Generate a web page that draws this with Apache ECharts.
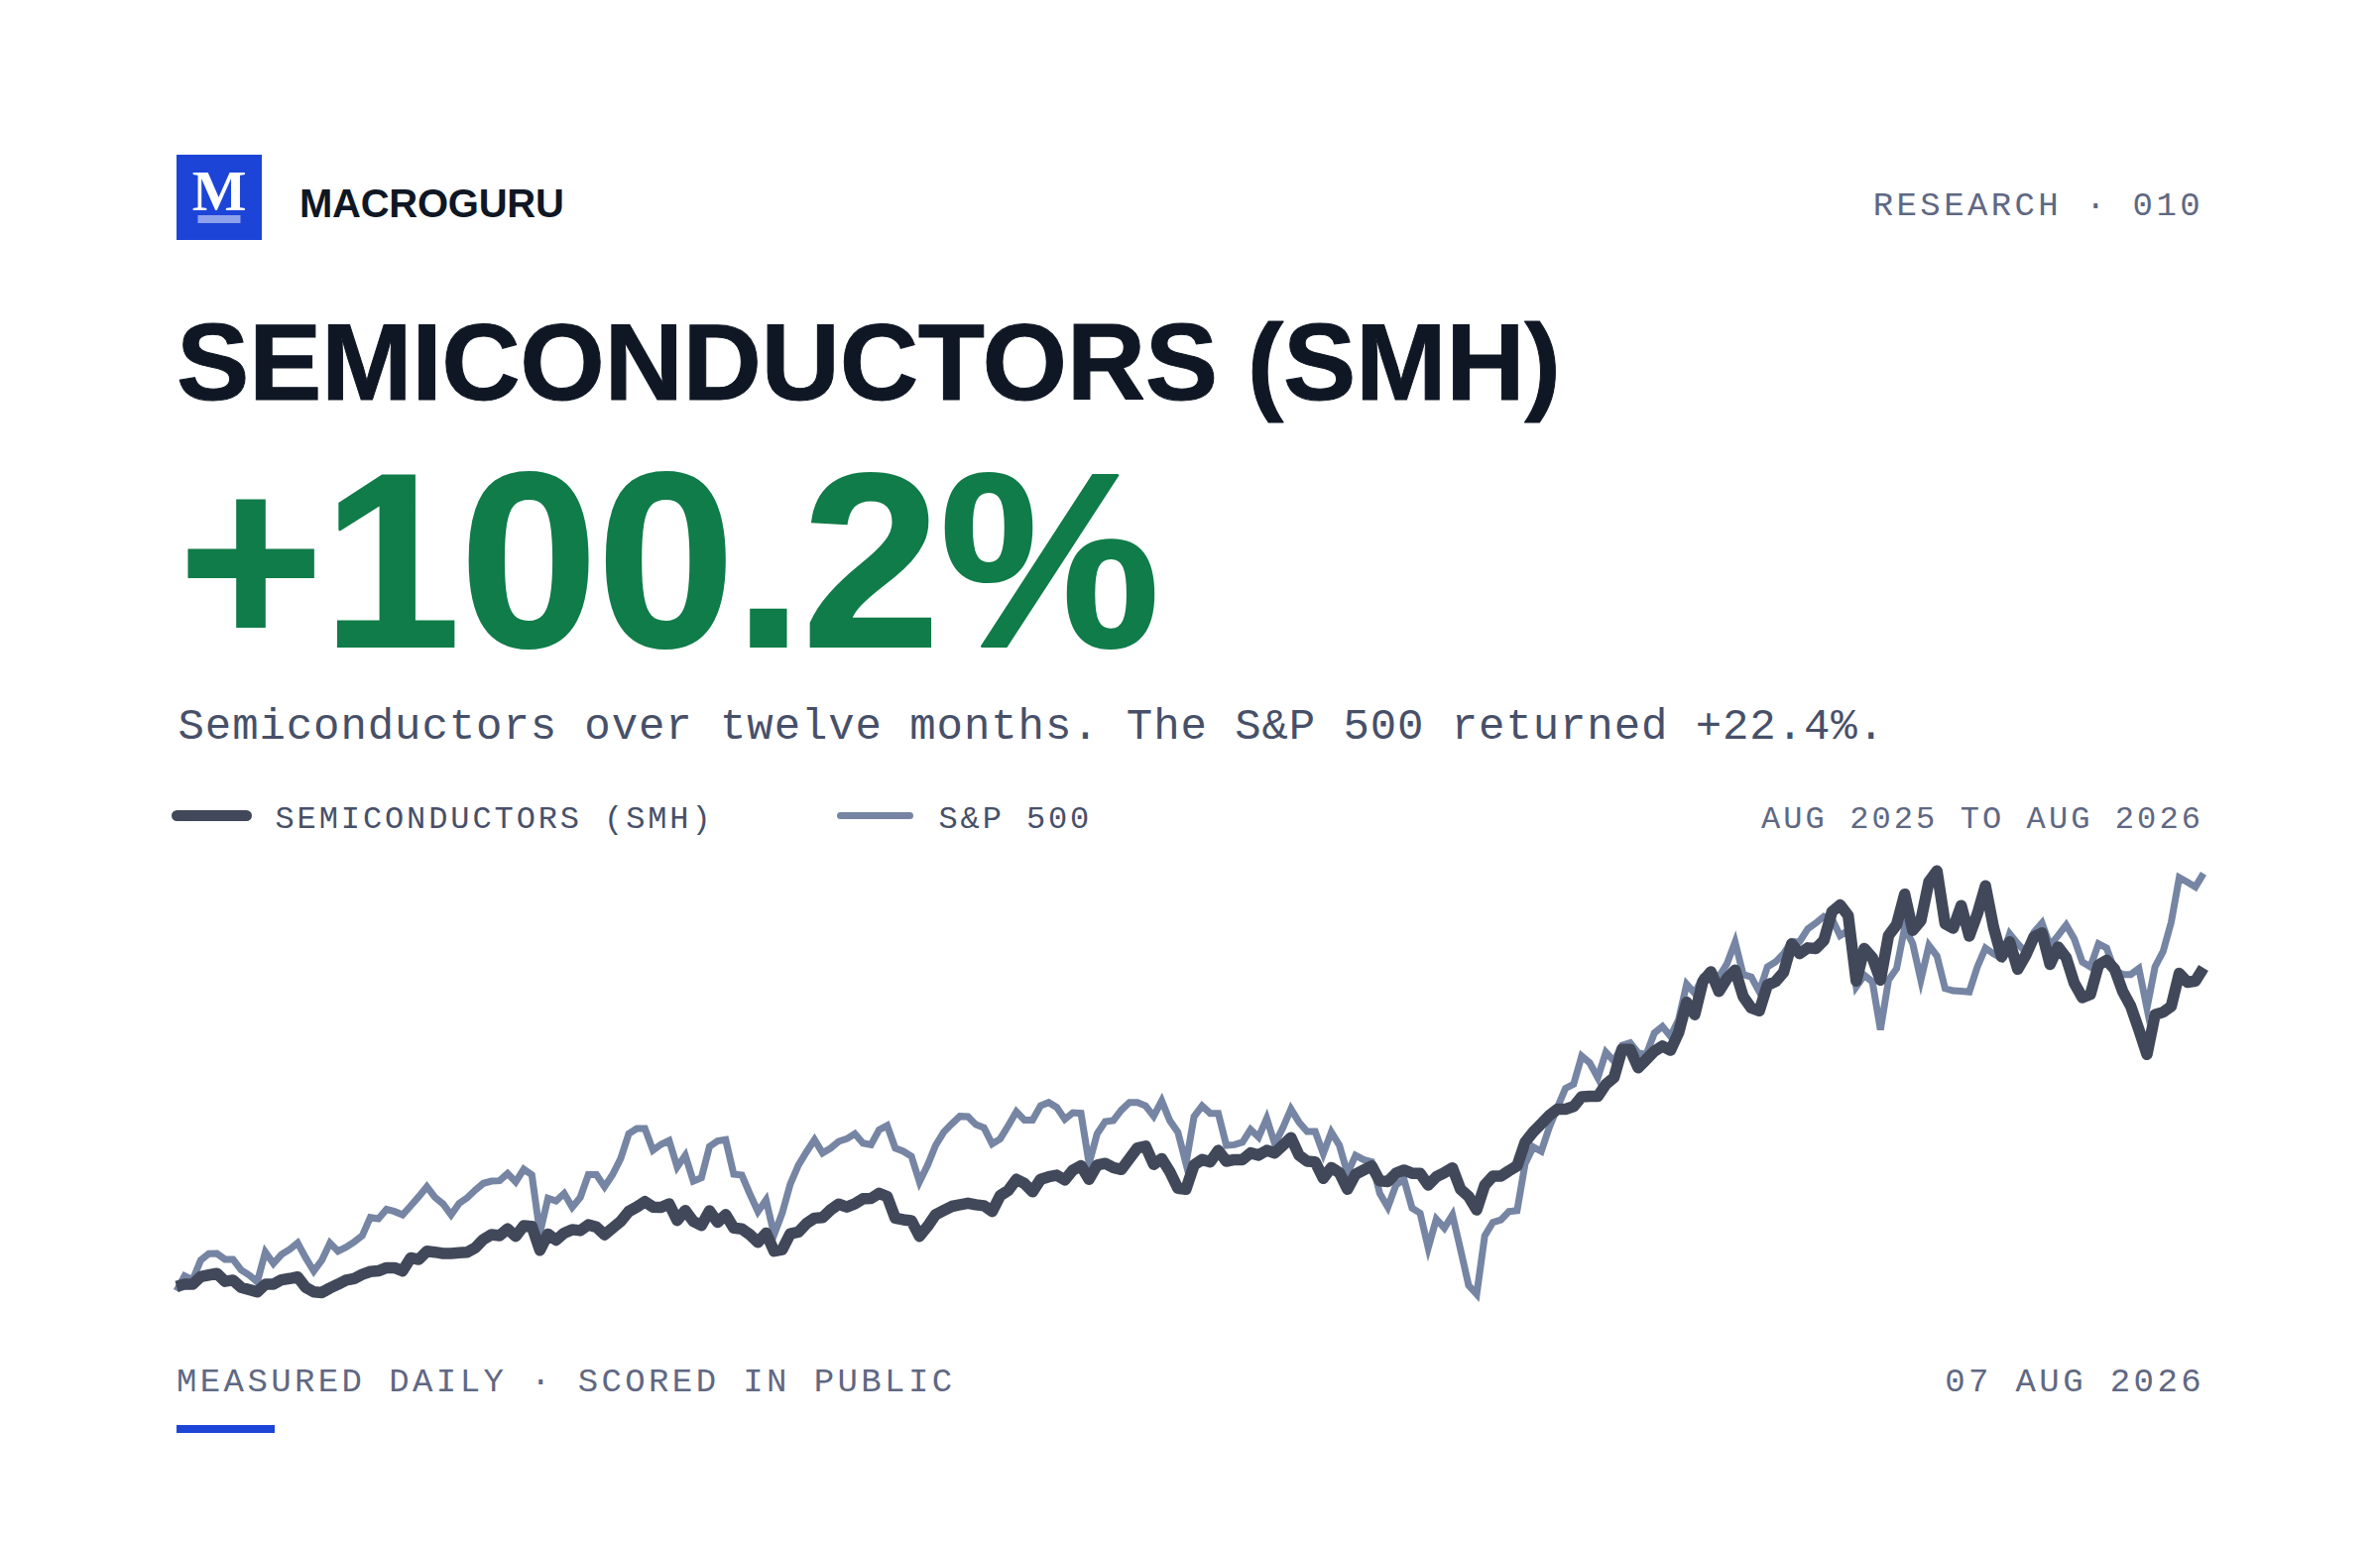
<!DOCTYPE html>
<html>
<head>
<meta charset="utf-8">
<style>html,body{margin:0;padding:0;background:#fff}#chart{width:2400px;height:1560px}</style>
<script src="https://cdn.jsdelivr.net/npm/echarts@6/dist/echarts.min.js"></script>
</head>
<body>
<div id="chart"></div>
<script>
// cumulative return in %, both, each on its own hidden scale
const smh = [0,0.7,0.7,3.1,3.6,4.1,1.6,2.0,-0.3,-1.0,-1.7,0.7,0.7,2.1,2.5,3.0,-0.3,-1.7,-1.9,-0.5,0.7,2.0,2.5,3.8,4.7,4.9,5.9,5.9,4.9,9.0,8.5,11.1,10.8,10.4,10.4,10.6,10.8,12.2,14.8,16.3,16.0,18.1,15.8,19.1,18.9,11.4,16.5,14.6,16.8,17.9,17.6,19.4,18.7,16.3,18.4,20.5,23.6,25.0,26.7,25.0,24.9,
  26.0,20.8,23.9,20.5,19.2,23.8,20.2,22.6,18.4,18.1,16.3,13.9,16.8,11.1,11.6,16.6,17.1,19.8,21.5,21.7,24.1,25.9,25.0,26.0,27.6,27.7,29.3,28.3,21.5,21.0,20.7,15.8,18.9,22.6,23.9,25.2,25.7,26.2,25.7,25.4,23.6,28.6,30.2,33.7,32.4,29.8,33.7,34.5,35.0,33.5,36.6,38.0,33.7,38.2,38.7,37.4,36.8,40.2,43.6,44.1,38.4,40.2,36.1,30.9,30.6,38.2,39.9,39.2,42.8,39.4,39.9,39.9,42.0,41.3,42.8,42.0,44.4,46.8,41.3,39.4,39.2,34.0,37.4,35.8,30.6,35.3,36.6,37.9,33.2,33.0,35.6,36.6,35.6,35.6,31.9,34.5,35.8,37.3,30.6,28.3,24.1,31.9,34.7,34.7,36.4,37.9,
  45.4,48.6,51.2,53.8,55.8,55.8,56.6,59.7,59.8,59.8,63.6,65.7,74.6,74.6,68.8,71.4,74.0,75.6,74.3,79.8,89.4,85.5,95.9,99.0,92.8,96.9,99.5,91.2,87.6,86.7,94.8,95.9,98.8,107.8,104.7,106.5,106.3,108.9,117.9,120.0,116.7,96.1,106.3,103.4,96.4,110.4,113.8,123.4,112.0,115.1,127.3,130.7,114.1,112.7,119.8,110.2,117.2,126.0,113.0,103.7,108.4,99.8,104.2,109.9,111.2,101.3,106.8,103.4,95.4,90.9,91.9,101.1,102.6,99.8,92.8,88.1,80.8,73.0,85.5,86.3,88.1,98.5,95.7,96.1,100.2]
const spx = [0,0.80,0.59,1.65,1.99,2.00,1.69,1.69,1.12,0.85,0.48,2.08,1.47,1.95,2.22,2.57,1.77,1.06,1.65,2.57,2.13,2.34,2.63,2.96,3.94,3.87,4.38,4.26,4.08,4.56,5.06,5.59,5.02,4.67,4.08,4.70,5.00,5.41,5.77,5.89,5.91,6.30,5.85,6.53,6.23,3.10,4.97,4.83,5.23,4.49,5.02,6.24,6.24,5.59,6.24,7.10,8.43,8.71,8.71,7.54,7.86,8.07,
  6.65,7.27,5.89,6.07,7.75,8.04,8.11,6.26,6.21,5.20,4.26,4.88,3.02,4.17,5.73,6.74,7.45,8.11,7.40,7.66,8.02,8.16,8.43,7.93,7.84,8.64,8.87,7.66,7.49,7.22,5.85,6.74,7.81,8.52,8.96,9.37,9.35,8.92,8.75,7.89,8.16,8.87,9.62,9.17,9.17,9.93,10.11,9.85,9.21,9.56,9.53,6.83,8.43,9.08,9.14,9.70,10.11,10.11,9.93,9.37,10.20,9.14,8.52,6.83,9.35,9.93,9.53,9.53,7.81,7.84,7.98,8.66,8.25,9.26,7.89,8.75,9.76,9.05,8.55,8.55,7.36,8.52,7.81,6.30,7.27,7.04,6.92,5.23,4.49,5.68,5.98,4.44,4.17,2.31,3.85,3.37,4.08,2.22,0.30,-0.18,2.96,3.67,3.81,4.26,4.31,
  6.83,7.72,7.49,8.78,9.85,10.87,11.09,12.60,12.24,11.44,12.81,12.33,13.18,13.31,12.77,12.68,13.84,14.19,13.66,14.55,16.46,15.97,16.85,17.12,16.85,17.56,18.72,16.98,16.85,16.05,17.39,17.65,18.09,18.72,18.75,19.43,19.74,20.10,19.96,19.07,19.34,16.32,16.94,16.59,14.01,16.68,17.30,19.51,18.63,16.68,18.54,17.97,16.23,16.11,16.09,16.05,17.39,18.40,18.09,17.86,19.16,18.63,18.18,19.25,19.74,18.54,19.07,19.64,18.89,17.65,17.39,18.63,18.40,17.21,16.98,16.98,17.30,15.17,17.39,18.22,19.78,22.18,21.94,21.68,22.40]
const days = smh.map((v, i) => i)

const brand = 'MACROGURU'
const issue = 'RESEARCH · 010'
const headline = 'SEMICONDUCTORS (SMH)'
const bigNumber = '+100.2%'
const subline = 'Semiconductors over twelve months. The S&P 500 returned +22.4%.'
const smhName = 'SEMICONDUCTORS (SMH)'
const spxName = 'S&P 500'
const range = 'AUG 2025 TO AUG 2026'
const footLeft = 'MEASURED DAILY · SCORED IN PUBLIC'
const footRight = '07 AUG 2026'

const sans = '"Liberation Sans", Arial, sans-serif'
const mono = '"Liberation Mono", monospace'

const label = (text, x, y, size, color, tracking, opts = {}) => ({
  type: 'text',
  x: x,
  y: y,
  silent: true,
  style: Object.assign({
    text: text,
    fontFamily: mono,
    fontSize: size,
    fill: color,
    align: 'left',
    verticalAlign: 'middle'
  }, opts),
  info: tracking
})

const texts = [
  label(brand, 302, 205, 40, '#0f1724', -0.25, { fontFamily: sans, fontWeight: 700 }),
  label(issue, 2222, 208, 34, '#5f6883', 3.4, { align: 'right' }),
  label(headline, 178, 364.5, 110, '#0f1724', -0.4, { fontFamily: sans, fontWeight: 700, stroke: '#0f1724', lineWidth: 1 }),
  label(bigNumber, 180, 565, 250, '#107c49', -0.7, { fontFamily: sans, fontWeight: 700, stroke: '#107c49', lineWidth: 2 }),
  label(subline, 179.5, 733, 44, '#475069', 0.92),
  label(smhName, 277.5, 826, 32, '#475069', 2.9),
  label(spxName, 946.5, 826, 32, '#475069', 2.9),
  label(range, 2222, 826, 32, '#5f6883', 3.1, { align: 'right' }),
  label(footLeft, 178, 1394, 34, '#5f6883', 3.4),
  label(footRight, 2223, 1394, 34, '#5f6883', 3.4, { align: 'right' })
]

const chart = echarts.init(document.getElementById('chart'), null, { renderer: 'svg' })
chart.setOption({
  animation: false,
  backgroundColor: '#fff',
  grid: { left: 178, right: 178, top: 860, bottom: 240 },
  xAxis: { type: 'category', data: days, boundaryGap: false, show: false },
  yAxis: [
    { type: 'value', min: -7.08, max: 136.4, show: false },
    { type: 'value', min: -0.974, max: 23.51, show: false }
  ],
  series: [
    {
      name: spxName, type: 'line', yAxisIndex: 1, data: spx, showSymbol: false, smooth: false,
      lineStyle: { color: '#7685a3', width: 7, join: 'miter', miterLimit: 6, cap: 'butt' }, z: 2
    },
    {
      name: smhName, type: 'line', yAxisIndex: 0, data: smh, showSymbol: false, smooth: false,
      lineStyle: { color: '#414859', width: 11.5, join: 'round', cap: 'butt' }, z: 3
    }
  ],
  graphic: [
    { type: 'rect', shape: { x: 178, y: 156, width: 86, height: 86 }, style: { fill: '#1c45d8' } },
    { type: 'text', x: 221, y: 192, style: { text: 'M', fontFamily: '"Liberation Serif", serif', fontWeight: 700, fontSize: 58, fill: '#fff', align: 'center', verticalAlign: 'middle' } },
    { type: 'rect', shape: { x: 199.5, y: 217, width: 43, height: 8 }, style: { fill: '#8ea2ec' } },
    { type: 'rect', shape: { x: 173, y: 817, width: 81, height: 11, r: 5.5 }, style: { fill: '#414859' } },
    { type: 'rect', shape: { x: 844, y: 819, width: 77, height: 7, r: 3.5 }, style: { fill: '#7685a3' } },
    { type: 'rect', shape: { x: 178, y: 1437, width: 99, height: 8 }, style: { fill: '#1c45d8' } }
  ].concat(texts)
})

// zrender has no letter spacing, the svg text can take it from css
const tracking = {}
texts.forEach(t => { tracking[t.style.text + '|' + t.style.fontSize] = t.info })
document.querySelectorAll('#chart svg text').forEach(el => {
  const key = el.textContent + '|' + parseInt(getComputedStyle(el).fontSize)
  if (tracking[key] !== undefined) el.style.letterSpacing = tracking[key] + 'px'
})
</script>
</body>
</html>
